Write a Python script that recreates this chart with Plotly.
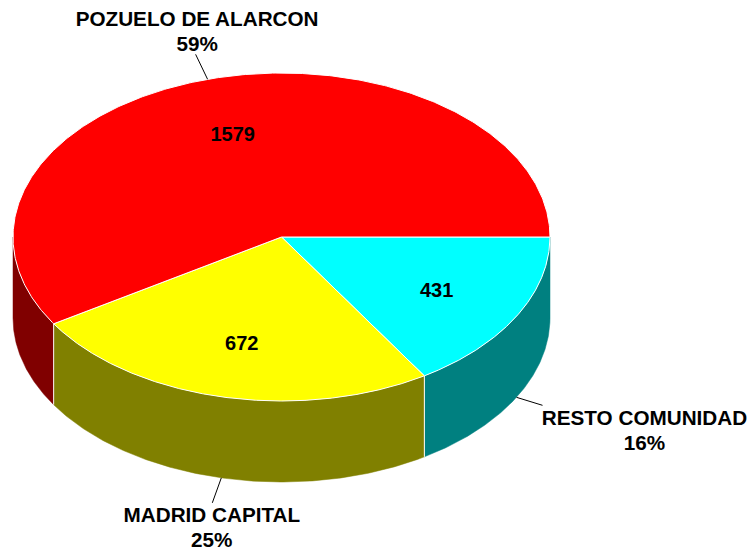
import numpy as np
import plotly.graph_objects as go

# Data (clockwise from the 3 o'clock position)
categories = ["RESTO COMUNIDAD", "MADRID CAPITAL", "POZUELO DE ALARCON"]
values = [431, 672, 1579]

# Styling
top_colors = ["#00FFFF", "#FFFF00", "#FF0000"]
side_colors = ["#008080", "#808000", "#800000"]
CX, CY, RX, RY, DEPTH = 281.5, 237, 268.5, 164, 81
INNER = 0.66
VALUE_DY = 3
FONT = dict(family="Liberation Sans, Arial, sans-serif", size=20, color="black")
LABEL_FONT = dict(family="Liberation Sans, Arial, sans-serif", size=20.7, color="black")
# Offsets from the rim anchor to the leader end and to the label centre
leader_offset = [(26, 8), (-9, 25), (-12, -25)]
label_offset = [(128, 23), (-9.5, 39), (-10.5, -59)]
LINE_GAP = 25

total = sum(values)
fractions = [v / total for v in values]
edges = np.cumsum([0] + fractions) * 2 * np.pi


def px(a, r=1.0):
    return CX + RX * r * np.cos(a)


def py(a, r=1.0, drop=0.0):
    return CY + RY * r * np.sin(a) + drop


fig = go.Figure()
EDGE = dict(color="white", width=1)

# Side walls (only the near half of the rim, sin > 0)
for i, _ in enumerate(categories):
    a0, a1 = edges[i], min(edges[i + 1], np.pi)
    if a0 >= a1:
        continue
    t = np.linspace(a0, a1, 160)
    xs = np.r_[px(t), px(t[::-1])]
    ys = np.r_[py(t), py(t[::-1], drop=DEPTH)]
    fig.add_trace(go.Scatter(x=np.r_[xs, xs[0]], y=np.r_[ys, ys[0]], mode="lines",
                             fill="toself", fillcolor=side_colors[i],
                             line=dict(color=side_colors[i], width=0.5),
                             hoverinfo="skip", showlegend=False))
    # White divider at the start of a wall that follows another wall
    if i > 0:
        fig.add_trace(go.Scatter(x=[px(a0), px(a0)], y=[py(a0), py(a0, drop=DEPTH)], mode="lines",
                                 line=EDGE, hoverinfo="skip", showlegend=False))

# Top faces
for i, name in enumerate(categories):
    t = np.linspace(edges[i], edges[i + 1], 400)
    fig.add_trace(go.Scatter(x=np.r_[CX, px(t), CX], y=np.r_[CY, py(t), CY], mode="lines",
                             fill="toself", fillcolor=top_colors[i], line=EDGE,
                             name=name, hoverinfo="skip", showlegend=False))

# Leaders and labels
for i, name in enumerate(categories):
    mid = (edges[i] + edges[i + 1]) / 2
    drop = DEPTH if np.sin(mid) > 0 else 0
    ax, ay = px(mid), py(mid, drop=drop)
    dx, dy = leader_offset[i]
    fig.add_trace(go.Scatter(x=[ax, ax + dx], y=[ay, ay + dy], mode="lines",
                             line=dict(color="black", width=1),
                             hoverinfo="skip", showlegend=False))
    lx, ly = label_offset[i]
    fig.add_trace(go.Scatter(x=[ax + lx, ax + lx], y=[ay + ly, ay + ly + LINE_GAP],
                             mode="text", text=[f"<b>{name}</b>", f"<b>{fractions[i] * 100:.0f}%</b>"],
                             textposition="middle center", textfont=LABEL_FONT,
                             hoverinfo="skip", showlegend=False, cliponaxis=False))
    fig.add_trace(go.Scatter(x=[px(mid, INNER)], y=[py(mid, INNER) + VALUE_DY], mode="text",
                             text=[f"<b>{values[i]}</b>"], textposition="middle center",
                             textfont=FONT, hoverinfo="skip", showlegend=False))

fig.update_layout(
    width=748, height=553, autosize=False,
    margin=dict(l=0, r=0, t=0, b=0),
    paper_bgcolor="white", plot_bgcolor="white",
    xaxis=dict(range=[0, 748], visible=False, fixedrange=True),
    yaxis=dict(range=[553, 0], visible=False, fixedrange=True),
)
fig.write_html("out.html", config={"displayModeBar": False},
               post_script="document.body.style.margin='0';document.body.style.overflow='hidden';")
